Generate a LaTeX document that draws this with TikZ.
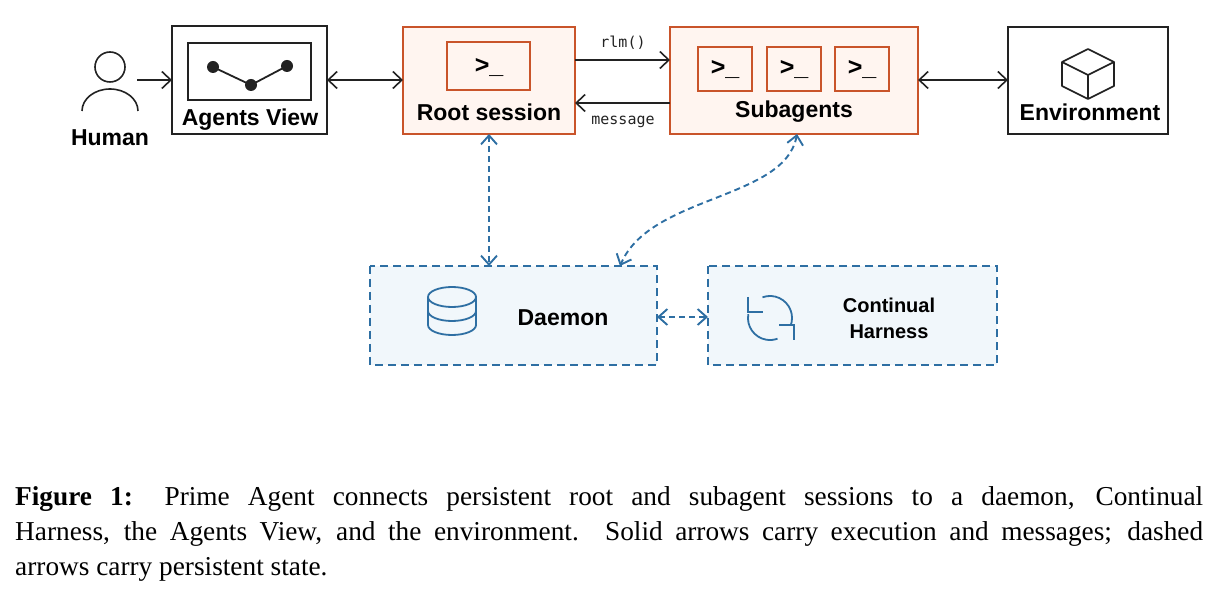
\documentclass[tikz,border=0pt]{standalone}
\usepackage{fontspec}
\setmainfont{Liberation Serif}
\setsansfont{Liberation Sans}
\setmonofont{DejaVu Sans Mono}
\usetikzlibrary{arrows.meta}
\definecolor{org}{HTML}{C9542A}
\definecolor{orgfill}{HTML}{FFF5F0}
\definecolor{blu}{HTML}{2E6FA3}
\definecolor{blufill}{HTML}{F1F7FB}
\definecolor{ink}{HTML}{222222}
\begin{document}
\begin{tikzpicture}[x=1pt,y=-1pt,
 lbl/.style={font=\sffamily\bfseries\fontsize{23}{26}\selectfont,text=black},
 term/.style={font=\sffamily\bfseries\fontsize{25}{26}\selectfont},
 sol/.style={draw=ink,line width=1.6pt,{Straight Barb[length=9pt,width=17pt]}-{Straight Barb[length=9pt,width=17pt]}},
 solr/.style={draw=ink,line width=1.6pt,-{Straight Barb[length=9pt,width=17pt]}},
 dsh/.style={draw=blu,line width=1.9pt,dash pattern=on 6pt off 4pt,{Straight Barb[length=9pt,width=16pt]}-{Straight Barb[length=9pt,width=16pt]}},
 obox/.style={draw=org,line width=2.4pt,fill=orgfill},
 ibox/.style={draw=org,line width=2pt,fill=orgfill},
 bbox/.style={draw=blu,line width=2.2pt,dash pattern=on 8pt off 5pt,fill=blufill},
 kbox/.style={draw=ink,line width=2.2pt,fill=white}]
\useasboundingbox (0,0) rectangle (1218,601);
% Human
\draw[ink,line width=1.6pt] (110,67) circle (15);
\draw[ink,line width=1.6pt] (82,111) arc (180:360:28 and 22);
\node[lbl] (hum) at (110,138) {Human};
\coordinate (humr) at (137,80);
% Agents view
\draw[kbox] (172,26) rectangle (327,134);
\draw[ink,line width=1.6pt] (188,43) rectangle (311,100);
\coordinate (avl) at (172,80); \coordinate (avr) at (327,80);
\draw[ink,line width=1.8pt] (213,67)--(251,85)--(287,66);
\foreach \p in {(213,67),(251,85),(287,66)} \fill[ink] \p circle (6);
\node[lbl] at (250,120) {Agents View};
% Root
\draw[obox] (403,27) rectangle (575,134);
\draw[ibox] (447,42) rectangle (530,90);
\node[term] at (489,68) {>\_};
\node[lbl] at (489,112) {Root session};
\coordinate (rootl) at (403,80);
% Subagents
\draw[obox] (670,27) rectangle (918,134);
\foreach \x in {698,767,835}{\draw[ibox] (\x,47) rectangle (\x+54,91); \node[term] at (\x+27,70) {>\_};}
\node[lbl] at (794,112) {Subagents};
% Environment
\draw[kbox] (1008,27) rectangle (1168,134);
\begin{scope}[ink,line width=1.6pt,line join=round]
\draw (1062,62)--(1088,49)--(1114,62)--(1114,86)--(1088,99)--(1062,86)--cycle;
\draw (1062,62)--(1088,75)--(1114,62) (1088,75)--(1088,99);
\end{scope}
\node[lbl] at (1090,112) {Environment};
% Solid arrows
\draw[solr] (humr) -- (avl);
\draw[sol] (avr) -- (rootl);
\coordinate (r1) at (575,60); \coordinate (s1) at (670,60);
\coordinate (r2) at (575,103); \coordinate (s2) at (670,103);
\draw[solr] (r1) -- (s1);
\draw[solr] (s2) -- (r2);
\node[font=\ttfamily\fontsize{15}{16}\selectfont,text=ink] at (623,43) {rlm()};
\node[font=\ttfamily\fontsize{15}{16}\selectfont,text=ink] at (623,122) {message};
\coordinate (subr) at (918,80); \coordinate (envl) at (1008,80);
\draw[sol] (subr) -- (envl);
% Daemon
\draw[bbox] (370,266) rectangle (657,365);
\begin{scope}[blu,line width=1.8pt]
\draw (452,297) ellipse (24 and 10);
\draw (428,297)--(428,325) (476,297)--(476,325);
\draw (428,311) arc (180:0:24 and 10);
\draw (428,325) arc (180:0:24 and 10);
\end{scope}
\node[lbl] at (563,318) {Daemon};
% CH
\draw[bbox] (708,266) rectangle (997,365);
\begin{scope}[blu,line width=1.8pt]
\draw (762.5,297.3) arc (-110:20:22);
\draw (748.3,314.2) arc (-170:-290:22);
\draw (748,297)--(748,312)--(763,312);
\draw (794,340)--(794,325)--(779,325);
\end{scope}
\node[lbl,align=center,font=\sffamily\bfseries\fontsize{20}{26}\selectfont] at (889,318) {Continual\\Harness};
% dashed
\coordinate (rootb) at (489,134); \coordinate (daet) at (489,266);
\draw[dsh] (rootb) -- (daet);
\coordinate (subb) at (797,134); \coordinate (daet2) at (620,266);
\draw[dsh] (subb) .. controls (785,200) and (650,195) .. (daet2);
\coordinate (daer) at (657,317); \coordinate (chl) at (708,317);
\draw[dsh] (daer) -- (chl);
% caption
\begin{scope}[font=\fontsize{27.3}{34}\selectfont]
\node[anchor=base west,inner sep=0] at (15,505) {\makebox[1188pt][s]{\textbf{Figure 1:} Prime Agent connects persistent root and subagent sessions to a daemon, Continual}};
\node[anchor=base west,inner sep=0] at (15,540) {\makebox[1188pt][s]{Harness, the Agents View, and the environment. Solid arrows carry execution and messages; dashed}};
\node[anchor=base west,inner sep=0] at (15,575) {arrows carry persistent state.};
\end{scope}
\end{tikzpicture}
\end{document}
